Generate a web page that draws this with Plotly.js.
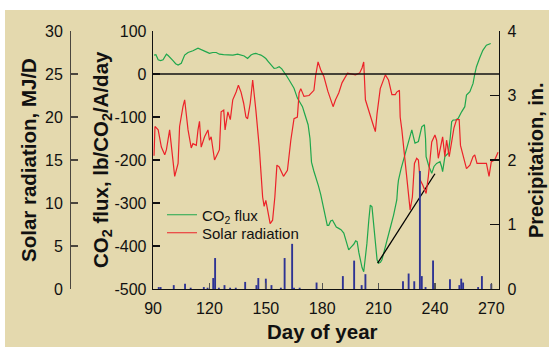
<!DOCTYPE html>
<html>
<head>
<meta charset="utf-8">
<script src="https://cdn.plot.ly/plotly-3.0.1.min.js"></script>
<style>html,body{margin:0;padding:0;background:#fff;}#chart{width:549px;height:347px;}</style>
</head>
<body>
<div id="chart"></div>
<script>
// ---- data ----
const co2Days = [90.5,91.5,92.7,94,95.3,96.3,97.1,98,98.8,100.6,102,103.3,105,106,106.8,108.6,111.2,113.9,115.2,116.5,118,120,121.8,123.6,125.3,127.5,129.8,132.5,135,137,138.5,140.3,141.3,142.1,143.5,144.7,146,147.4,148.8,150,151.3,152.7,154.4,155.7,157.1,158.5,159.7,161,162.4,163.7,165,166.8,168.2,169.5,170.5,172.5,173.5,174.3,175.5,176.7,178,179.2,180.9,182,182.7,183.5,184.5,185.5,186.5,187.5,188.8,190,191.5,193,194.1,195.5,196.8,197.8,198.6,199.5,200.3,201.2,202.1,203,203.8,204.8,205.6,206.5,207.3,208.3,209.2,210,211,211.8,213.5,215.3,216.7,218,219.7,220.2,220.6,222,223.2,225,226.5,227.7,228.5,229.4,231.2,232,233,234.4,235,235.3,236.8,238.3,239.5,240.9,242.7,243.5,244.1,245.3,247.1,248.1,248.9,249.7,251,252.4,253.3,254.2,255.9,256.8,258.6,259.5,260.3,261.2,262.1,263.8,265.5,267.4,269.7];
const co2Flux = [44,45,33,31,33,40,46,43,40,31,24,21,25,35,44,50,54,60,58,56,52,48,50,50,46,45,44,44,46,44,42,36,40,44,47,48,46,44,40,36,29,21,13,14,17,12,5,-4,-14,-23,-33,-56,-66,-76,-90,-118,-150,-205,-225,-240,-260,-280,-312,-340,-352,-352,-342,-340,-350,-356,-359,-362,-370,-395,-409,-402,-396,-388,-390,-415,-433,-450,-460,-430,-394,-340,-305,-309,-350,-405,-432,-440,-438,-432,-405,-378,-350,-328,-293,-262,-247,-220,-200,-169,-150,-130,-145,-161,-157,-138,-123,-118,-150,-192,-215,-231,-215,-208,-204,-215,-227,-192,-184,-150,-111,-107,-107,-103,-95,-88,-76,-49,-41,-32,-22,0,17,37,55,67,71];

const solarDays = [90.5,91,92.7,94.4,96.2,97.1,98.8,99.7,101.5,103.3,104.1,105.9,106.8,108.6,110.3,111.2,113,113.9,114.7,115.6,117.4,119.2,120,120.9,122.7,124.5,125.3,126.2,127.6,128.3,129.8,131.1,132.4,134.2,135.4,136.8,138.2,139.4,140.3,141.7,143,144.7,146.5,148.3,149.1,150,150.9,152.3,153.6,154.8,155.9,157.1,159.4,161.5,163.3,165,166.8,167.7,168.6,170.3,173,175.6,176.5,177.8,179.2,180.9,183,185.8,187.1,188.8,190.6,192.4,193.5,197.7,199.9,201.2,202.1,203,205.6,207.4,208.3,209.2,210.9,212.7,213.6,215.3,217.1,218.9,219.7,221.1,221.5,222.4,224.1,225.4,226.8,228,229.1,230.3,231.2,232.1,233.5,235.3,236.5,238.3,240,240.9,241.8,243,244.1,245.3,246.2,247.6,248.9,250.1,251.5,252.9,253.6,255,256.8,258.6,260.3,261.2,262.4,264.7,267.4,268.8,270,271.8,273.6];
const solarRad = [15.5,18.9,18.5,16.5,15.6,16.2,18.5,16.5,13.1,14.6,18.9,21.2,22,18.5,16.4,16.9,16.7,18.5,19.5,16.5,17.7,18.5,17.3,17.7,15,15.8,16.2,20.6,20.8,18.5,20.6,19.7,22,22.9,23.7,22.9,21.6,20,19.8,21.6,24.3,20.8,16.5,10.7,9.6,10.3,9.2,7.6,8,10.7,14.4,14.2,13.1,13.8,17.3,19.8,20,22.8,23.3,22.4,22.5,23.1,24.8,26.4,25.5,24.7,23,21.2,22,22.8,24,24.6,25.1,24.9,25.1,25.7,26.4,22,20,18.9,18.3,20.4,23.3,24.5,24.9,24.3,22.6,22.6,22.9,23.1,20,18.5,15,11.5,9.2,10.7,14.6,15.2,15,12.7,12.1,11.1,13.1,17.1,17.9,17.3,15.2,16.5,17.7,15.4,17.3,15.4,17.3,18.7,19.7,19.7,16.7,15.6,14,14.4,15.4,15.6,14.6,14.6,14.6,13.1,14.8,15,15.9];

const precipDays = [93,94,101,107,110,117,119,122,123,125,128,131,134,139,145,146,150,153,158,160,164,165,168,177,191,197,201,203,223,226,229,232,233,235,239,248,253,254,255,263,265,270];
const precipIn   = [0.03,0.03,0.06,0.08,0.02,0.03,0.02,0.17,0.48,0.02,0.06,0.02,0.02,0.11,0.06,0.17,0.16,0.06,0.02,0.48,0.70,0.02,0.02,0.10,0.20,0.44,0.06,0.23,0.12,0.24,0.12,1.83,0.20,0.03,0.44,0.15,0.06,0.16,0.10,0.03,0.20,0.08];

const trendDays = [209.5, 240];
const trendFlux = [-440, -232];

const dayTicks = [90,120,150,180,210,240,270];
const co2Ticks = [-500,-400,-300,-200,-100,0,100];
const co2TickText = ['-500','-400','-300','-200','-100','0','100'];
const solarTicks = [0,5,10,15,20,25,30];
const precipTicks = [0,1,2,3,4];

// ---- layout helpers (pixel -> paper) ----
const W = 549, H = 347;
const px = v => v / W;
const py = v => (H - v) / H;
const BG = '#E4D9AE';
const FONT = 'Liberation Sans, Arial, Helvetica, sans-serif';

const traces = [
  {type:'bar', x: precipDays, y: precipIn, width: 1, xaxis:'x', yaxis:'y3',
   marker:{color:'#2E3394', line:{width:0}}, showlegend:false, hoverinfo:'skip'},
  {type:'scatter', mode:'lines', x: solarDays, y: solarRad, yaxis:'y2', name:'Solar radiation',
   line:{color:'#EC2229', width:1.2}, legend:'legend2'},
  {type:'scatter', mode:'lines', x: co2Days, y: co2Flux, yaxis:'y', name:'CO<sub>2</sub> flux',
   line:{color:'#1FA74C', width:1.2}, legend:'legend'},
  {type:'scatter', mode:'lines', x: trendDays, y: trendFlux, yaxis:'y',
   line:{color:'#000', width:1.3}, showlegend:false, hoverinfo:'skip'}
];

const tickFont = {family: FONT, size: 16, color:'#111'};
const titleFont = {family: FONT, size: 20.5, color:'#111', weight: 'bold'};

const layout = {
  width: W, height: H, autosize:false,
  margin:{l:0,r:0,t:0,b:0,pad:0},
  paper_bgcolor: BG, plot_bgcolor: BG,
  font:{family: FONT, color:'#111'},
  xaxis:{domain:[px(153), px(499)], range:[89.95, 274.1], tickvals: dayTicks,
    ticks:'inside', ticklen:6, tickcolor:'#555', tickwidth:1.2,
    showline:true, linecolor:'#111', linewidth:1.3, showgrid:false, zeroline:false,
    tickfont: tickFont, ticklabelstandoff: 4, anchor:'y', fixedrange:true},
  yaxis:{domain:[py(289), py(31)], range:[-500,100], tickvals: co2Ticks, ticktext: co2TickText,
    ticks:'inside', ticklen:7, tickcolor:'#111', tickwidth:1.2,
    showline:true, linecolor:'#111', linewidth:1.3, showgrid:false, zeroline:false,
    tickfont: tickFont, ticklabelstandoff: 2, anchor:'x', fixedrange:true},
  yaxis2:{overlaying:'y', anchor:'free', position: px(70), side:'left', range:[0,30], tickvals: solarTicks,
    ticks:'inside', ticklen:7, tickcolor:'#4a463f', tickwidth:1.2,
    showline:true, linecolor:'#4a463f', linewidth:1.3, showgrid:false, zeroline:false,
    tickfont: tickFont, ticklabelstandoff: 4, fixedrange:true},
  yaxis3:{overlaying:'y', anchor:'x', side:'right', range:[0,4], tickvals: precipTicks,
    ticks:'inside', ticklen:9, tickcolor:'#111', tickwidth:1.2,
    showline:true, linecolor:'#111', linewidth:1.3, showgrid:false, zeroline:false,
    tickfont: tickFont, ticklabelstandoff: 4, fixedrange:true},
  legend:{x: px(162), y: py(215), xanchor:'left', yanchor:'middle', bgcolor:'rgba(0,0,0,0)',
    borderwidth:0, font:{family: FONT, size:15, color:'#111'}},
  legend2:{x: px(162), y: py(233), xanchor:'left', yanchor:'middle', bgcolor:'rgba(0,0,0,0)',
    borderwidth:0, font:{family: FONT, size:15, color:'#111'}},
  shapes:[
    {type:'rect', xref:'paper', yref:'paper', x0:0, x1:1, y0:py(10), y1:1, fillcolor:'#fff', line:{width:0}, layer:'below'},
    {type:'rect', xref:'paper', yref:'paper', x0:0, x1:px(5), y0:0, y1:1, fillcolor:'#fff', line:{width:0}, layer:'below'},
    {type:'line', xref:'paper', yref:'y', x0:px(153), x1:px(499), y0:0, y1:0, line:{color:'#111', width:1.3}}
  ],
  annotations:[
    {text:'Solar radiation, MJ/D', xref:'paper', yref:'paper', x: px(28), y: py(160), xanchor:'center', yanchor:'middle',
     textangle:-90, showarrow:false, font: titleFont},
    {text:'CO<sub>2</sub> flux, lb/CO<sub>2</sub>/A/day', xref:'paper', yref:'paper', x: px(102), y: py(160), xanchor:'center', yanchor:'middle',
     textangle:-90, showarrow:false, font: titleFont},
    {text:'Precipitation, in.', xref:'paper', yref:'paper', x: px(536), y: py(160), xanchor:'center', yanchor:'middle',
     textangle:-90, showarrow:false, font: {family: FONT, size: 20, color:'#111', weight:'bold'}},
    {text:'Day of year', xref:'paper', yref:'paper', x: px(322), y: py(331), xanchor:'center', yanchor:'middle',
     showarrow:false, font: titleFont}
  ]
};

Plotly.newPlot('chart', traces, layout, {displayModeBar:false, staticPlot:true});
</script>
</body>
</html>
